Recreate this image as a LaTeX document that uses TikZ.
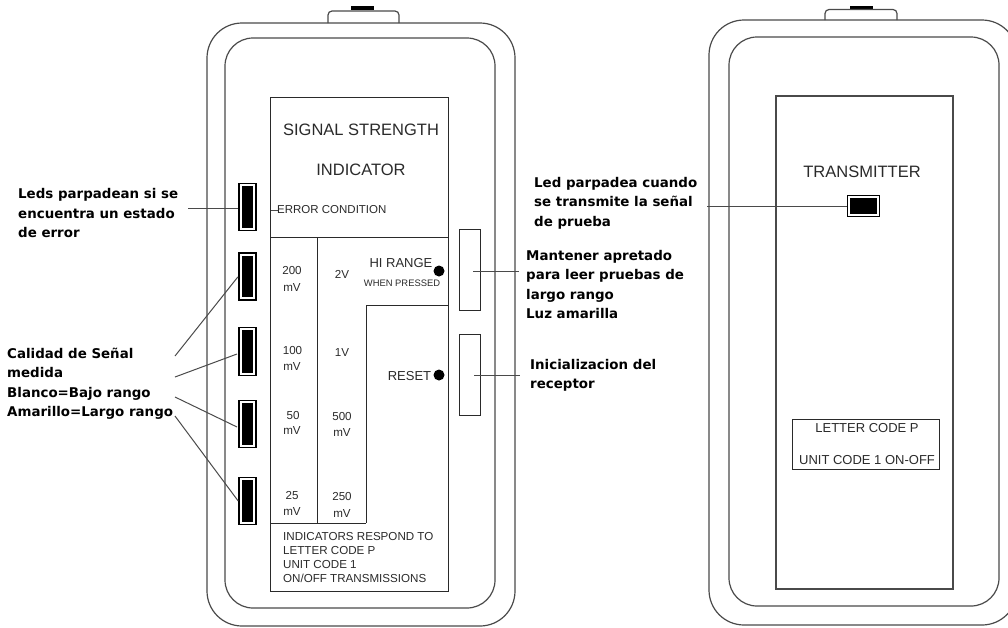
\documentclass[tikz,border=0pt]{standalone}
\usepackage{fontspec}
\setmainfont{Liberation Sans}
\newfontfamily\labelfont{DejaVu Sans}[BoldFont={DejaVu Sans Bold}]
\newcommand{\fsz}[1]{\fontsize{#1}{#1}\selectfont}
\newcommand{\nsz}{\fontsize{13.4}{19.5}\selectfont}
\definecolor{ink}{HTML}{2A2A2A}
\definecolor{gline}{HTML}{4A4A4A}
\tikzset{
  body/.style={draw=gline,line width=1.2pt,rounded corners=#1},
  panel/.style={draw=ink,line width=1pt},
  ledbox/.style={draw=black,line width=1.6pt,fill=white,inner sep=0pt,minimum width=#1,rectangle,
    path picture={\fill[black] ([shift={(2.9pt,2.9pt)}]path picture bounding box.south west) rectangle ([shift={(-2.9pt,-2.9pt)}]path picture bounding box.north east);}},
  btn/.style={draw=ink,line width=1pt,inner sep=0pt,minimum width=21pt,minimum height=81pt},
  lead/.style={draw=gline,line width=1pt},
  note/.style={font=\labelfont\bfseries\nsz,text=black,align=left,anchor=north west,inner sep=0pt},
  big/.style={font=\fsz{16.5},text=ink,inner sep=0pt},
  mid/.style={font=\fsz{13},text=ink,inner sep=0pt},
  small/.style={font=\fsz{11.6},text=ink,inner sep=0pt},
  dotm/.style={circle,fill=black,inner sep=0pt,minimum size=11pt}
}
\begin{document}
\begin{tikzpicture}[x=1pt,y=-1pt]
\useasboundingbox (0,0) rectangle (1008,627);
\clip (0,0) rectangle (1008,627);
% left device
\fill[black] (351,6) rectangle (374,10);
\draw[body=4pt] (328,23) -- (328,11) -- (399,11) -- (399,23);
\draw[body=35pt] (207,23) rectangle (515,626);
\draw[body=28pt] (225,38) rectangle (495,608);
\draw[panel] (270,97) rectangle (448,591);
\draw[panel] (270,237) -- (448,237);
\draw[panel] (317,237) -- (317,523);
\draw[panel] (366,305) -- (366,523);
\draw[panel] (366,305) -- (448,305);
\draw[panel] (270,523) -- (366,523);
\node[big] (t1) at (361,130) {SIGNAL STRENGTH};
\node[big] (t2) at (361,170) {INDICATOR};
\node[small,font=\fsz{11.5},anchor=west] (t3) at (277,210) {ERROR CONDITION};
\coordinate (tk) at (278,210);
\draw[lead] (271,210) -- (tk);
\foreach \n/\x/\y/\s in {a/292/271/200,b/292/288/mV,c/342/274/2V,d/292.5/350/100,e/292/367/mV,f/342/353/1V,g/293/415/50,h/292/431/mV,i/342/416/500,j/342/433/mV,k/292/495/25,l/292/511/mV,m/342/496/250,n/342/513/mV}
  \node[small] (v\n) at (\x,\y) {\s};
\node[mid] (hi) at (401,263) {HI RANGE};
\node[small,font=\fsz{9.4}] (wp) at (402,283) {WHEN PRESSED};
\node[mid] (rs) at (409.5,376) {RESET};
\node[dotm] (d1) at (439,271) {};
\node[dotm] (d2) at (439,375) {};
\node[small,anchor=north west,align=left,font=\fontsize{11.6}{14}\selectfont] (ind) at (283,532) {INDICATORS RESPOND TO\\LETTER CODE P\\UNIT CODE 1\\ON/OFF TRANSMISSIONS};
% LEDs
\node[ledbox=17pt,minimum height=47pt] (l1) at (247.5,207) {};
\node[ledbox=17pt,minimum height=47pt] (l2) at (247.5,276.5) {};
\node[ledbox=17pt,minimum height=48pt] (l3) at (247.5,351.5) {};
\node[ledbox=17pt,minimum height=47pt] (l4) at (247.5,424) {};
\node[ledbox=17pt,minimum height=47pt] (l5) at (247.5,501) {};
% buttons
\node[btn] (b1) at (469.5,269.5) {};
\node[btn] (b2) at (469.5,374.5) {};
% left labels
\node[note] (n1) at (18,188.5) {Leds parpadean si se\\encuentra un estado\\de error};
\node[note] (n2) at (7,347.5) {Calidad de Señal\\medida\\Blanco=Bajo rango\\Amarillo=Largo rango};
\coordinate (e1) at (188,208);
\coordinate (c2) at (175,356);
\coordinate (c3) at (175,377);
\coordinate (c4) at (175,397);
\coordinate (c5) at (175,416);
\coordinate (t3a) at (237,354);
\coordinate (t4a) at (237,427);
\draw[lead] (e1) -- (l1.west |- e1);
\draw[lead,shorten >=0.5pt] (c2) -- (l2.west);
\draw[lead] (c3) -- (t3a);
\draw[lead] (c4) -- (t4a);
\draw[lead] (c5) -- (l5.west);
% right labels
\node[note] (n3) at (534,177) {Led parpadea cuando\\se transmite la señal\\de prueba};
\node[note] (n4) at (526,250) {Mantener apretado\\para leer pruebas de\\largo rango\\Luz amarilla};
\node[note] (n5) at (530,359) {Inicializacion del\\receptor};
\coordinate (hb) at (473,271);
\coordinate (he) at (519,271);
\coordinate (rb) at (474,375);
\coordinate (re) at (520,375);
\draw[lead] (hb) -- (he);
\draw[lead] (rb) -- (re);
% right device
\fill[black] (850,6) rectangle (873,9);
\draw[body=4pt] (825,20) -- (825,9.5) -- (897,9.5) -- (897,20);
\draw[body=35pt] (709,20) rectangle (1017,625);
\draw[body=28pt] (729,37) rectangle (999,606);
\draw[body=0pt] (776,96) rectangle (953,589);
\node[big] (tx) at (862,172) {TRANSMITTER};
\node[ledbox=32pt,minimum height=21pt] (l6) at (863.5,206) {};
\coordinate (lf) at (707,206);
\draw[lead] (lf) -- (l6.west);
\node[draw=ink,line width=1pt,minimum width=147pt,minimum height=50pt,inner sep=0pt] (cb) at (865.5,444) {};
\node[mid] (c1t) at (867,428) {LETTER CODE P};
\node[mid] (c2t) at (867,460) {UNIT CODE 1 ON-OFF};
\end{tikzpicture}
\end{document}
